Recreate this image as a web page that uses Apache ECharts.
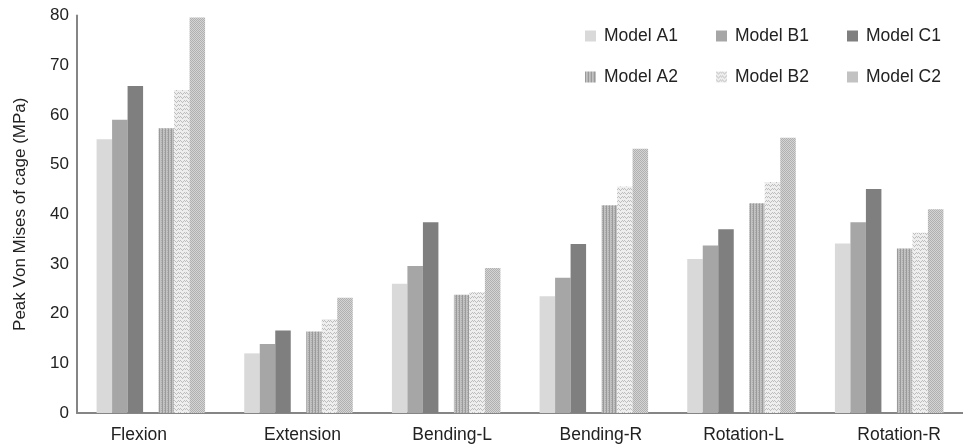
<!DOCTYPE html>
<html>
<head>
<meta charset="utf-8">
<script src="https://cdn.jsdelivr.net/npm/echarts@6/dist/echarts.min.js"></script>
<style>
html,body{margin:0;padding:0;background:#fff;}
#chart{width:963px;height:444px;}
</style>
</head>
<body>
<div id="chart"></div>
<script>
const categories = ['Flexion', 'Extension', 'Bending-L', 'Bending-R', 'Rotation-L', 'Rotation-R'];
const seriesNames = ['Model A1', 'Model B1', 'Model C1', 'Model A2', 'Model B2', 'Model C2'];
const modelA1 = [55.1, 12.0, 26.0, 23.5, 31.0, 34.1];
const modelB1 = [59.0, 13.9, 29.6, 27.2, 33.7, 38.4];
const modelC1 = [65.8, 16.6, 38.4, 34.0, 37.0, 45.1];
const modelA2 = [57.3, 16.4, 23.8, 41.8, 42.2, 33.1];
const modelB2 = [65.0, 18.9, 24.3, 45.6, 46.5, 36.3];
const modelC2 = [79.6, 23.2, 29.2, 53.2, 55.4, 41.0];
const yMin = 0, yMax = 80, yInterval = 10;
const yAxisTitle = 'Peak Von Mises of cage (MPa)';

// style only: horizontal nudges of category labels (px)
const labelNudge = [-12, 4, 6, 7, 2, 10];

function pattern(w, h, draw) {
  const c = document.createElement('canvas');
  c.width = w; c.height = h;
  const ctx = c.getContext('2d');
  draw(ctx);
  return { image: c, repeat: 'repeat' };
}
const patA2 = pattern(3, 2, ctx => {
  ctx.fillStyle = '#c2c2c2'; ctx.fillRect(0, 0, 3, 2);
  ctx.fillStyle = '#9a9a9a'; ctx.fillRect(0, 0, 1, 2);
  ctx.fillStyle = '#adadad'; ctx.fillRect(2, 0, 1, 1);
});
const patB2 = pattern(6, 4, ctx => {
  ctx.fillStyle = '#eeeeee'; ctx.fillRect(0, 0, 6, 4);
  ctx.fillStyle = '#bdbdbd';
  ctx.fillRect(0, 0, 1, 1); ctx.fillRect(1, 1, 1, 1); ctx.fillRect(2, 2, 1, 1);
  ctx.fillRect(3, 1, 1, 1); ctx.fillRect(4, 0, 1, 1); ctx.fillRect(5, 1, 1, 1);
});
const patC2 = pattern(2, 2, ctx => {
  ctx.fillStyle = '#d4d4d4'; ctx.fillRect(0, 0, 2, 2);
  ctx.fillStyle = '#b0b0b0'; ctx.fillRect(0, 0, 1, 1); ctx.fillRect(1, 1, 1, 1);
});
const colors = ['#d9d9d9', '#a6a6a6', '#7f7f7f', patA2, patB2, patC2];
const values = [modelA1, modelB1, modelC1, modelA2, modelB2, modelC2];

const FONT = 'Liberation Sans, Arial, Helvetica, sans-serif';
const series = [];
values.forEach((v, i) => {
  if (i === 3) {
    series.push({ type: 'bar', name: 'spacer', data: categories.map(() => null),
      barWidth: 15.5, barGap: '0%', silent: true });
  }
  series.push({ type: 'bar', name: seriesNames[i], data: v, barWidth: 15.5, barGap: '0%',
    itemStyle: { color: colors[i] }, animation: false });
});

function legendCol(names, left) {
  return {
    orient: 'vertical', left: left, top: 22, itemWidth: 11, itemHeight: 11, itemGap: 23,
    icon: 'rect', data: names, selectedMode: false,
    textStyle: { fontFamily: FONT, fontSize: 17.5, color: '#222', padding: [0, 0, 0, 3] }
  };
}

const rich = {};
labelNudge.forEach((n, i) => {
  rich['c' + i] = { fontFamily: FONT, fontSize: 17.5, color: '#222',
    padding: n >= 0 ? [0, 0, 0, 2 * n] : [0, -2 * n, 0, 0] };
});

const chart = echarts.init(document.getElementById('chart'));
chart.setOption({
  animation: false,
  backgroundColor: '#fff',
  legend: [
    legendCol([seriesNames[0], seriesNames[3]], 580),
    legendCol([seriesNames[1], seriesNames[4]], 711),
    legendCol([seriesNames[2], seriesNames[5]], 842)
  ],
  grid: { left: 77, top: 15.5, bottom: 30.5, width: 894, containLabel: false },
  xAxis: {
    type: 'category', data: categories,
    axisLine: { lineStyle: { color: '#858585', width: 2 } },
    axisTick: { inside: true, length: 4, lineStyle: { color: '#858585', width: 1.5 } },
    axisLabel: { interval: 0, hideOverlap: false, fontFamily: FONT, fontSize: 17.5, color: '#222',
      margin: 13, rich: rich,
      formatter: (val, idx) => '{c' + idx + '|' + val + '}' }
  },
  yAxis: {
    type: 'value', min: yMin, max: yMax, interval: yInterval,
    name: yAxisTitle, nameLocation: 'middle', nameGap: 48,
    nameTextStyle: { fontFamily: FONT, fontSize: 17, color: '#222' },
    axisLine: { show: true, lineStyle: { color: '#858585', width: 2 } },
    axisTick: { show: false },
    splitLine: { show: false },
    axisLabel: { fontFamily: FONT, fontSize: 17, color: '#222', margin: 8 }
  },
  series: series
});
</script>
</body>
</html>
